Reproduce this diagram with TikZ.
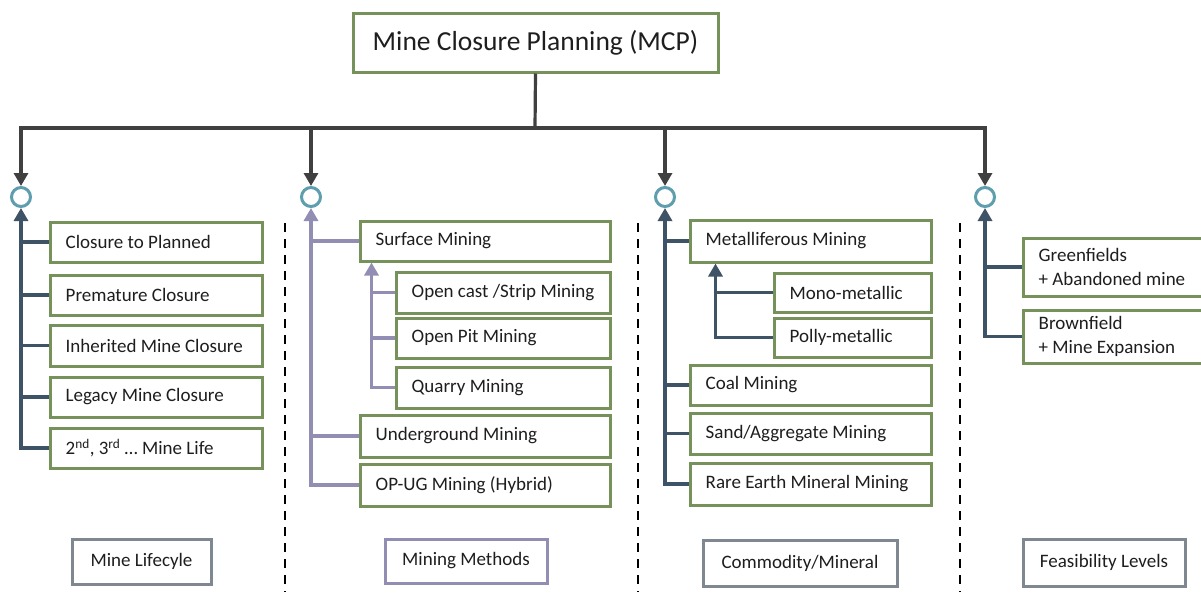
\documentclass[tikz,border=0pt]{standalone}
\usepackage{fontspec}
\setmainfont{Carlito}
\usetikzlibrary{arrows.meta}

\definecolor{boxgreen}{RGB}{118,146,90}
\definecolor{darkline}{RGB}{64,64,64}
\definecolor{slate}{RGB}{62,83,102}
\definecolor{lav}{RGB}{146,141,178}
\definecolor{teal}{RGB}{94,158,174}
\definecolor{catgray}{RGB}{127,135,144}
\definecolor{txt}{RGB}{30,30,30}

\tikzset{
  boxitem/.style={draw=boxgreen, line width=3pt, fill=white, inner xsep=17pt,
    inner ysep=0pt, align=left, text=txt, font=\fontsize{19}{24}\selectfont},
  itemtext/.style={anchor=west, inner sep=0pt, text=txt, align=left,
    font=\fontsize{19}{24}\selectfont},
  titlebox/.style={boxitem, inner xsep=5pt, align=center, font=\fontsize{27.5}{32}\selectfont},
  catbox/.style={boxitem, inner xsep=5pt, draw=catgray, align=center},
  methodcat/.style={catbox, draw=lav},
  joint/.style={circle, draw=teal, line width=3pt, fill=white, minimum size=19pt, inner sep=0pt},
  mainline/.style={draw=darkline, line width=3.2pt},
  slateline/.style={draw=slate, line width=3.2pt},
  lavline/.style={draw=lav, line width=3.2pt},
  headed/.style={-{Triangle[width=14pt,length=13pt]}},
  sepline/.style={draw=black, line width=2.6pt, dash pattern=on 9pt off 7pt},
}

% \Bx[style]{name}{x1}{y1}{x2}{y2}{text}: a box spanning the given corners,
% its text set flush left 17pt inside the left edge
\newcommand\Bx[7][boxitem]{%
  \pgfmathsetmacro\bw{#5-#3}%
  \pgfmathsetmacro\bh{#6-#4}%
  \node[#1, minimum width=\bw pt, minimum height=\bh pt]
    (#2) at ({(#3+#5)/2},{(#4+#6)/2}) {};
  \node[itemtext] (#2-text) at ([xshift=17pt]#2.west) {#7};}
% \Cx[style]{name}{x1}{y1}{x2}{y2}{text}: a box with its text centred
\newcommand\Cx[7][catbox]{%
  \pgfmathsetmacro\bw{#5-#3}%
  \pgfmathsetmacro\bh{#6-#4}%
  \node[#1, minimum width=\bw pt, minimum height=\bh pt]
    (#2) at ({(#3+#5)/2},{(#4+#6)/2}) {#7};}

\begin{document}
\begin{tikzpicture}[x=1pt, y=-1pt]
\useasboundingbox (0,0) rectangle (1201,592);

% root
\Cx[titlebox]{mcp}{353}{13}{718}{72}{Mine Closure Planning (MCP)}

% branch joints
\node[joint] (c1) at (21,197) {};
\node[joint] (c2) at (311,197) {};
\node[joint] (c3) at (665,197) {};
\node[joint] (c4) at (985,197) {};

% column separators
\draw[sepline] (285,223) -- (285,592);
\draw[sepline] (638,223) -- (638,592);
\draw[sepline] (960,223) -- (960,592);

% mine lifecycle
\Bx{b1}{50}{222}{262}{262}{Closure to Planned}
\Bx{b2}{50}{275}{262}{315}{Premature Closure}
\Bx{b3}{50}{325}{262}{366}{Inherited Mine Closure}
\Bx{b4}{50}{377}{262}{417}{Legacy Mine Closure}
\Bx{b5}{50}{428}{262}{468}{2\textsuperscript{nd}, 3\textsuperscript{rd} … Mine Life}

% mining methods
\Bx{surf}{360}{221}{610}{261}{Surface Mining}
\Bx{opencast}{396}{272}{610}{313}{Open cast /Strip Mining}
\Bx{openpit}{396}{318}{610}{358}{Open Pit Mining}
\Bx{quarry}{396}{367}{610}{408}{Quarry Mining}
\Bx{under}{360}{415}{610}{457}{Underground Mining}
\Bx{opug}{360}{464}{610}{506}{OP-UG Mining (Hybrid)}

% commodity / mineral
\Bx{metal}{690}{220}{931}{262}{Metalliferous Mining}
\Bx{mono}{774}{273}{931}{312}{Mono-metallic}
\Bx{polly}{774}{318}{931}{357}{Polly-metallic}
\Bx{coal}{690}{365}{931}{405}{Coal Mining}
\Bx{sand}{690}{413}{931}{454}{Sand/Aggregate Mining}
\Bx{rare}{690}{463}{931}{505}{Rare Earth Mineral Mining}

% feasibility levels
\Bx{green}{1023}{238}{1215}{296}{Greenfields\\+ Abandoned mine}
\Bx{brown}{1023}{310}{1215}{363}{Brownfield\\+ Mine Expansion}

% category labels
\Cx{lifecat}{72}{539}{211}{584}{Mine Lifecyle}
\Cx[methodcat]{methcat}{385}{539}{547}{583}{Mining Methods}
\Cx{commcat}{703}{540}{897}{586}{Commodity/Mineral}
\Cx{feascat}{1023}{539}{1185}{586}{Feasibility Levels}

% root to joints
\coordinate (hub) at (535,128);
\draw[mainline] (mcp.south) -- (hub);
\draw[mainline, headed] (hub) -| (c1.north);
\draw[mainline, headed] (hub) -| (c4.north);
\draw[mainline, headed] (c2 |- hub) -- (c2.north);
\draw[mainline, headed] (c3 |- hub) -- (c3.north);

% mine lifecycle trunk
\draw[slateline, headed] (b5.west) -| (c1.south);
\foreach \n in {b1,b2,b3,b4} \draw[slateline] (\n.west) -- (c1 |- \n.west);

% mining methods trunk
\draw[lavline, headed] (opug.west) -| (c2.south);
\draw[lavline] (surf.west) -- (c2 |- surf.west);
\draw[lavline] (under.west) -- (c2 |- under.west);
\coordinate (surfin) at ([xshift=13pt]surf.south west);
\draw[lavline, headed] (quarry.west) -| (surfin);
\draw[lavline] (opencast.west) -- (surfin |- opencast.west);
\draw[lavline] (openpit.west) -- (surfin |- openpit.west);

% commodity trunk
\draw[slateline, headed] (rare.west) -| (c3.south);
\foreach \n in {metal,coal,sand} \draw[slateline] (\n.west) -- (c3 |- \n.west);
\coordinate (metalin) at ([xshift=27pt]metal.south west);
\draw[slateline, headed] (polly.west) -| (metalin);
\draw[slateline] (mono.west) -- (metalin |- mono.west);

% feasibility trunk
\draw[slateline, headed] (brown.west) -| (c4.south);
\draw[slateline] (green.west) -- (c4 |- green.west);
\end{tikzpicture}
\end{document}
